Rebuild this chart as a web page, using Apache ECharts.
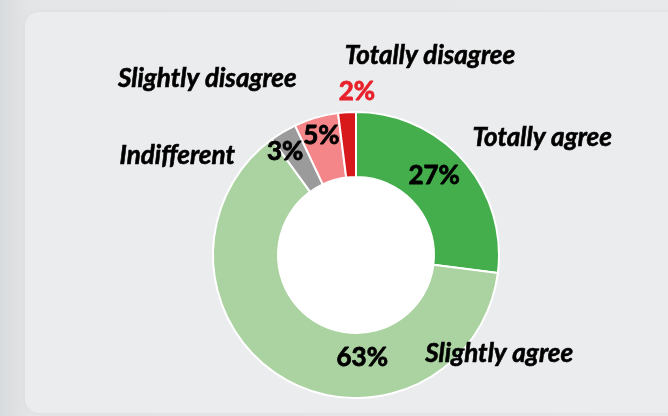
<!DOCTYPE html>
<html>
<head>
<meta charset="utf-8">
<script src="https://cdn.jsdelivr.net/npm/echarts@6/dist/echarts.min.js"></script>
<style>
html,body{margin:0;padding:0;width:668px;height:416px;overflow:hidden;}
body{background:linear-gradient(90deg,#d8dbdd 0px,#e4e5e6 30px,#e8e9ea 100%);position:relative;}
#card{position:absolute;left:25px;top:12px;width:660px;height:401px;background:#ebecee;border-radius:14px;box-shadow:0 0 6px rgba(0,0,0,0.04);}
#chart{position:absolute;left:0;top:0;width:668px;height:416px;}
</style>
</head>
<body>
<div id="card"></div>
<div id="chart"></div>
<script>
const categories = ['Totally agree', 'Slightly agree', 'Indifferent', 'Slightly disagree', 'Totally disagree'];
const values = [27, 63, 3, 5, 2];
const colors = ['#43ae4b', '#abd3a2', '#9b9b9b', '#f4868a', '#d7191c'];
const pctColors = ['#000', '#000', '#000', '#000', '#e8202a'];
const pctOffsets = [[-7, -4], [64, 5], [-13, -6], [-3, -10], [8, -50]];
const nameOffsets = [[101, -42], [201, 1], [-121, -2], [-117, -67], [81, -86]];

const chart = echarts.init(document.getElementById('chart'), null, {renderer: 'canvas'});
const center = [356, 255];
const radius = [78, 143];
chart.setOption({
  backgroundColor: 'transparent',
  animation: false,
  series: [
    {
      type: 'pie',
      center: center,
      radius: [0, radius[0]],
      silent: true,
      label: {show: false},
      labelLine: {show: false},
      itemStyle: {color: '#fff'},
      data: [{name: 'hole', value: 1}]
    },
    {
      type: 'pie',
      center: center,
      radius: radius,
      startAngle: 90,
      clockwise: true,
      avoidLabelOverlap: false,
      itemStyle: {borderColor: '#fff', borderWidth: 2},
      label: {
        show: true,
        position: 'inside',
        fontFamily: 'Lato',
        fontWeight: 'bold',
        fontSize: 26,
        formatter: p => p.value + '%'
      },
      labelLine: {show: false},
      labelLayout: p => ({dx: pctOffsets[p.dataIndex][0], dy: pctOffsets[p.dataIndex][1]}),
      data: categories.map((c, i) => ({
        name: c, value: values[i],
        itemStyle: {color: colors[i]},
        label: {color: pctColors[i], textBorderColor: pctColors[i], textBorderWidth: 0.8}
      }))
    },
    {
      type: 'pie',
      center: center,
      radius: radius,
      startAngle: 90,
      clockwise: true,
      silent: true,
      avoidLabelOverlap: false,
      itemStyle: {color: 'rgba(0,0,0,0)', borderWidth: 0},
      label: {
        show: true,
        position: 'inside',
        fontFamily: 'Lato',
        fontWeight: 'bold',
        fontStyle: 'italic',
        fontSize: 26,
        color: '#000',
        textBorderColor: '#000',
        textBorderWidth: 0.6,
        formatter: p => p.name
      },
      labelLine: {show: false},
      labelLayout: p => ({dx: nameOffsets[p.dataIndex][0], dy: nameOffsets[p.dataIndex][1]}),
      data: categories.map((c, i) => ({name: c, value: values[i]}))
    }
  ]
});
</script>
</body>
</html>
